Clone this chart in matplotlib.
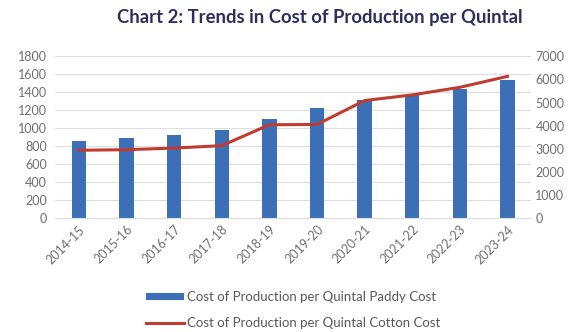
import matplotlib

matplotlib.use("Agg")
import matplotlib.pyplot as plt
import numpy as np

plt.rcParams["font.family"] = ["Lato", "DejaVu Sans"]

years = ["2014-15", "2015-16", "2016-17", "2017-18", "2018-19",
         "2019-20", "2020-21", "2021-22", "2022-23", "2023-24"]
paddy_cost = [857, 894, 924, 977, 1103, 1223, 1316, 1372, 1439, 1539]
cotton_cost = [2930, 2955, 3025, 3130, 4036, 4049, 5086, 5332, 5660, 6136]

BAR_COLOR = "#3b70b6"
LINE_COLOR = "#c23b30"
TICK_COLOR = "#6f6f6f"
GRID_COLOR = "#dedede"

fig = plt.figure(figsize=(5.8, 3.32), dpi=100)
ax = fig.add_axes([0.095, 0.344, 0.821, 0.486])
ax2 = ax.twinx()

x = np.arange(len(years))
bars = ax.bar(x, paddy_cost, width=0.3, color=BAR_COLOR, zorder=2,
              label="Cost of Production per Quintal Paddy Cost")
line, = ax2.plot(x, cotton_cost, color=LINE_COLOR, linewidth=2.2,
                 label="Cost of Production per Quintal Cotton Cost")

ax.set_xlim(-0.5, len(years) - 0.5)
ax.set_ylim(0, 1800)
ax.set_yticks(np.arange(0, 1801, 200))
ax2.set_ylim(0, 7000)
ax2.set_yticks(np.arange(0, 7001, 1000))

ax.set_xticks(x)
ax.set_xticklabels(years, rotation=45, ha="right", rotation_mode="anchor")
ax.grid(True, axis="y", color=GRID_COLOR, linewidth=0.8)
ax.set_axisbelow(True)

for a in (ax, ax2):
    for s in a.spines.values():
        s.set_visible(False)
    a.tick_params(length=0, labelsize=9, colors=TICK_COLOR)
ax.tick_params(axis="y", pad=6)
ax2.tick_params(axis="y", pad=3)
ax.tick_params(axis="x", pad=4)
ax.spines["bottom"].set_visible(True)
ax.spines["bottom"].set_color(GRID_COLOR)

fig.text(0.552, 0.946, "Chart 2: Trends in Cost of Production per Quintal",
         ha="center", va="center", fontsize=13.3, fontweight="bold",
         color="#2c2f5e")

fig.legend(handles=[bars, line], loc="center", ncol=1,
           bbox_to_anchor=(0.5055, 0.066), frameon=False, fontsize=9.5,
           labelcolor="#595959", handlelength=2.9, handleheight=0.45,
           handletextpad=0.25, labelspacing=1.1, borderpad=0.2)

fig.savefig("out.png", dpi=100)
